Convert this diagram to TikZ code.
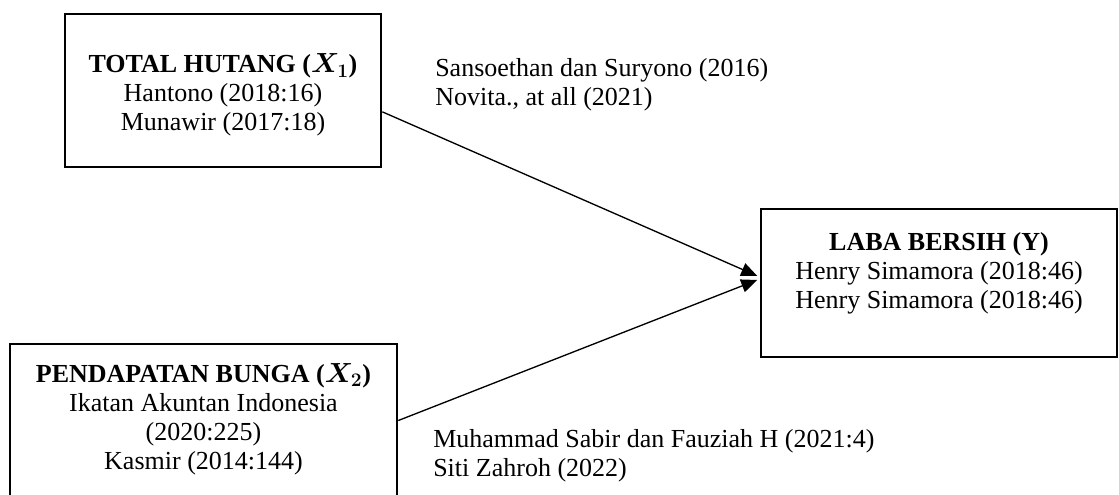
\documentclass[tikz,border=0pt]{standalone}
\usepackage{fontspec}
\setmainfont{Liberation Serif}
\usetikzlibrary{positioning,arrows.meta}

\begin{document}
\begin{tikzpicture}[
    x=0.75pt, y=-0.75pt,
    font=\fontsize{19.5}{21.75}\selectfont,
    frame/.style = {draw, line width=2pt, inner sep=0pt},
    vartxt/.style = {align=center, anchor=base, inner sep=0pt},
    reftxt/.style = {align=left, anchor=base west, inner sep=0pt},
    rel/.style = {-{Triangle[length=12pt,width=10pt]}, line width=1pt, shorten >=2pt}
    ]
    \useasboundingbox (0,0) rectangle (1119,495);
    % variable boxes
    \node[frame, minimum width=237pt, minimum height=114.75pt] (x1) at (223,90.5) {};
    \node[frame, minimum width=290.25pt, minimum height=114.75pt] (x2) at (203.5,420.5) {};
    \node[frame, minimum width=267pt, minimum height=111pt] (y) at (939,283) {};
    \node[vartxt] (x1txt) at (223,131) {\textbf{TOTAL HUTANG ({\boldmath$X_1$})}\\Hantono (2018:16)\\Munawir (2017:18)};
    \node[vartxt] (x2txt) at (203.5,469) {\textbf{PENDAPATAN BUNGA ({\boldmath$X_2$})}\\Ikatan Akuntan Indonesia\\(2020:225)\\Kasmir (2014:144)};
    \node[vartxt] (ytxt) at (939,308) {\textbf{LABA BERSIH (Y)}\\Henry Simamora (2018:46)\\Henry Simamora (2018:46)};
    % references
    \node[reftxt] (ref1) at (435,106) {Sansoethan dan Suryono (2016)\\Novita., at all (2021)};
    \node[reftxt] (ref2) at (433,476.5) {Muhammad Sabir dan Fauziah H (2021:4)\\Siti Zahroh (2022)};
    % arrows
    \draw[rel] ([yshift=-16pt]x1.east) -- ([yshift=4.5pt]y.west);
    \draw[rel] (x2.east) -- ([yshift=3pt]y.west);
\end{tikzpicture}
\end{document}
